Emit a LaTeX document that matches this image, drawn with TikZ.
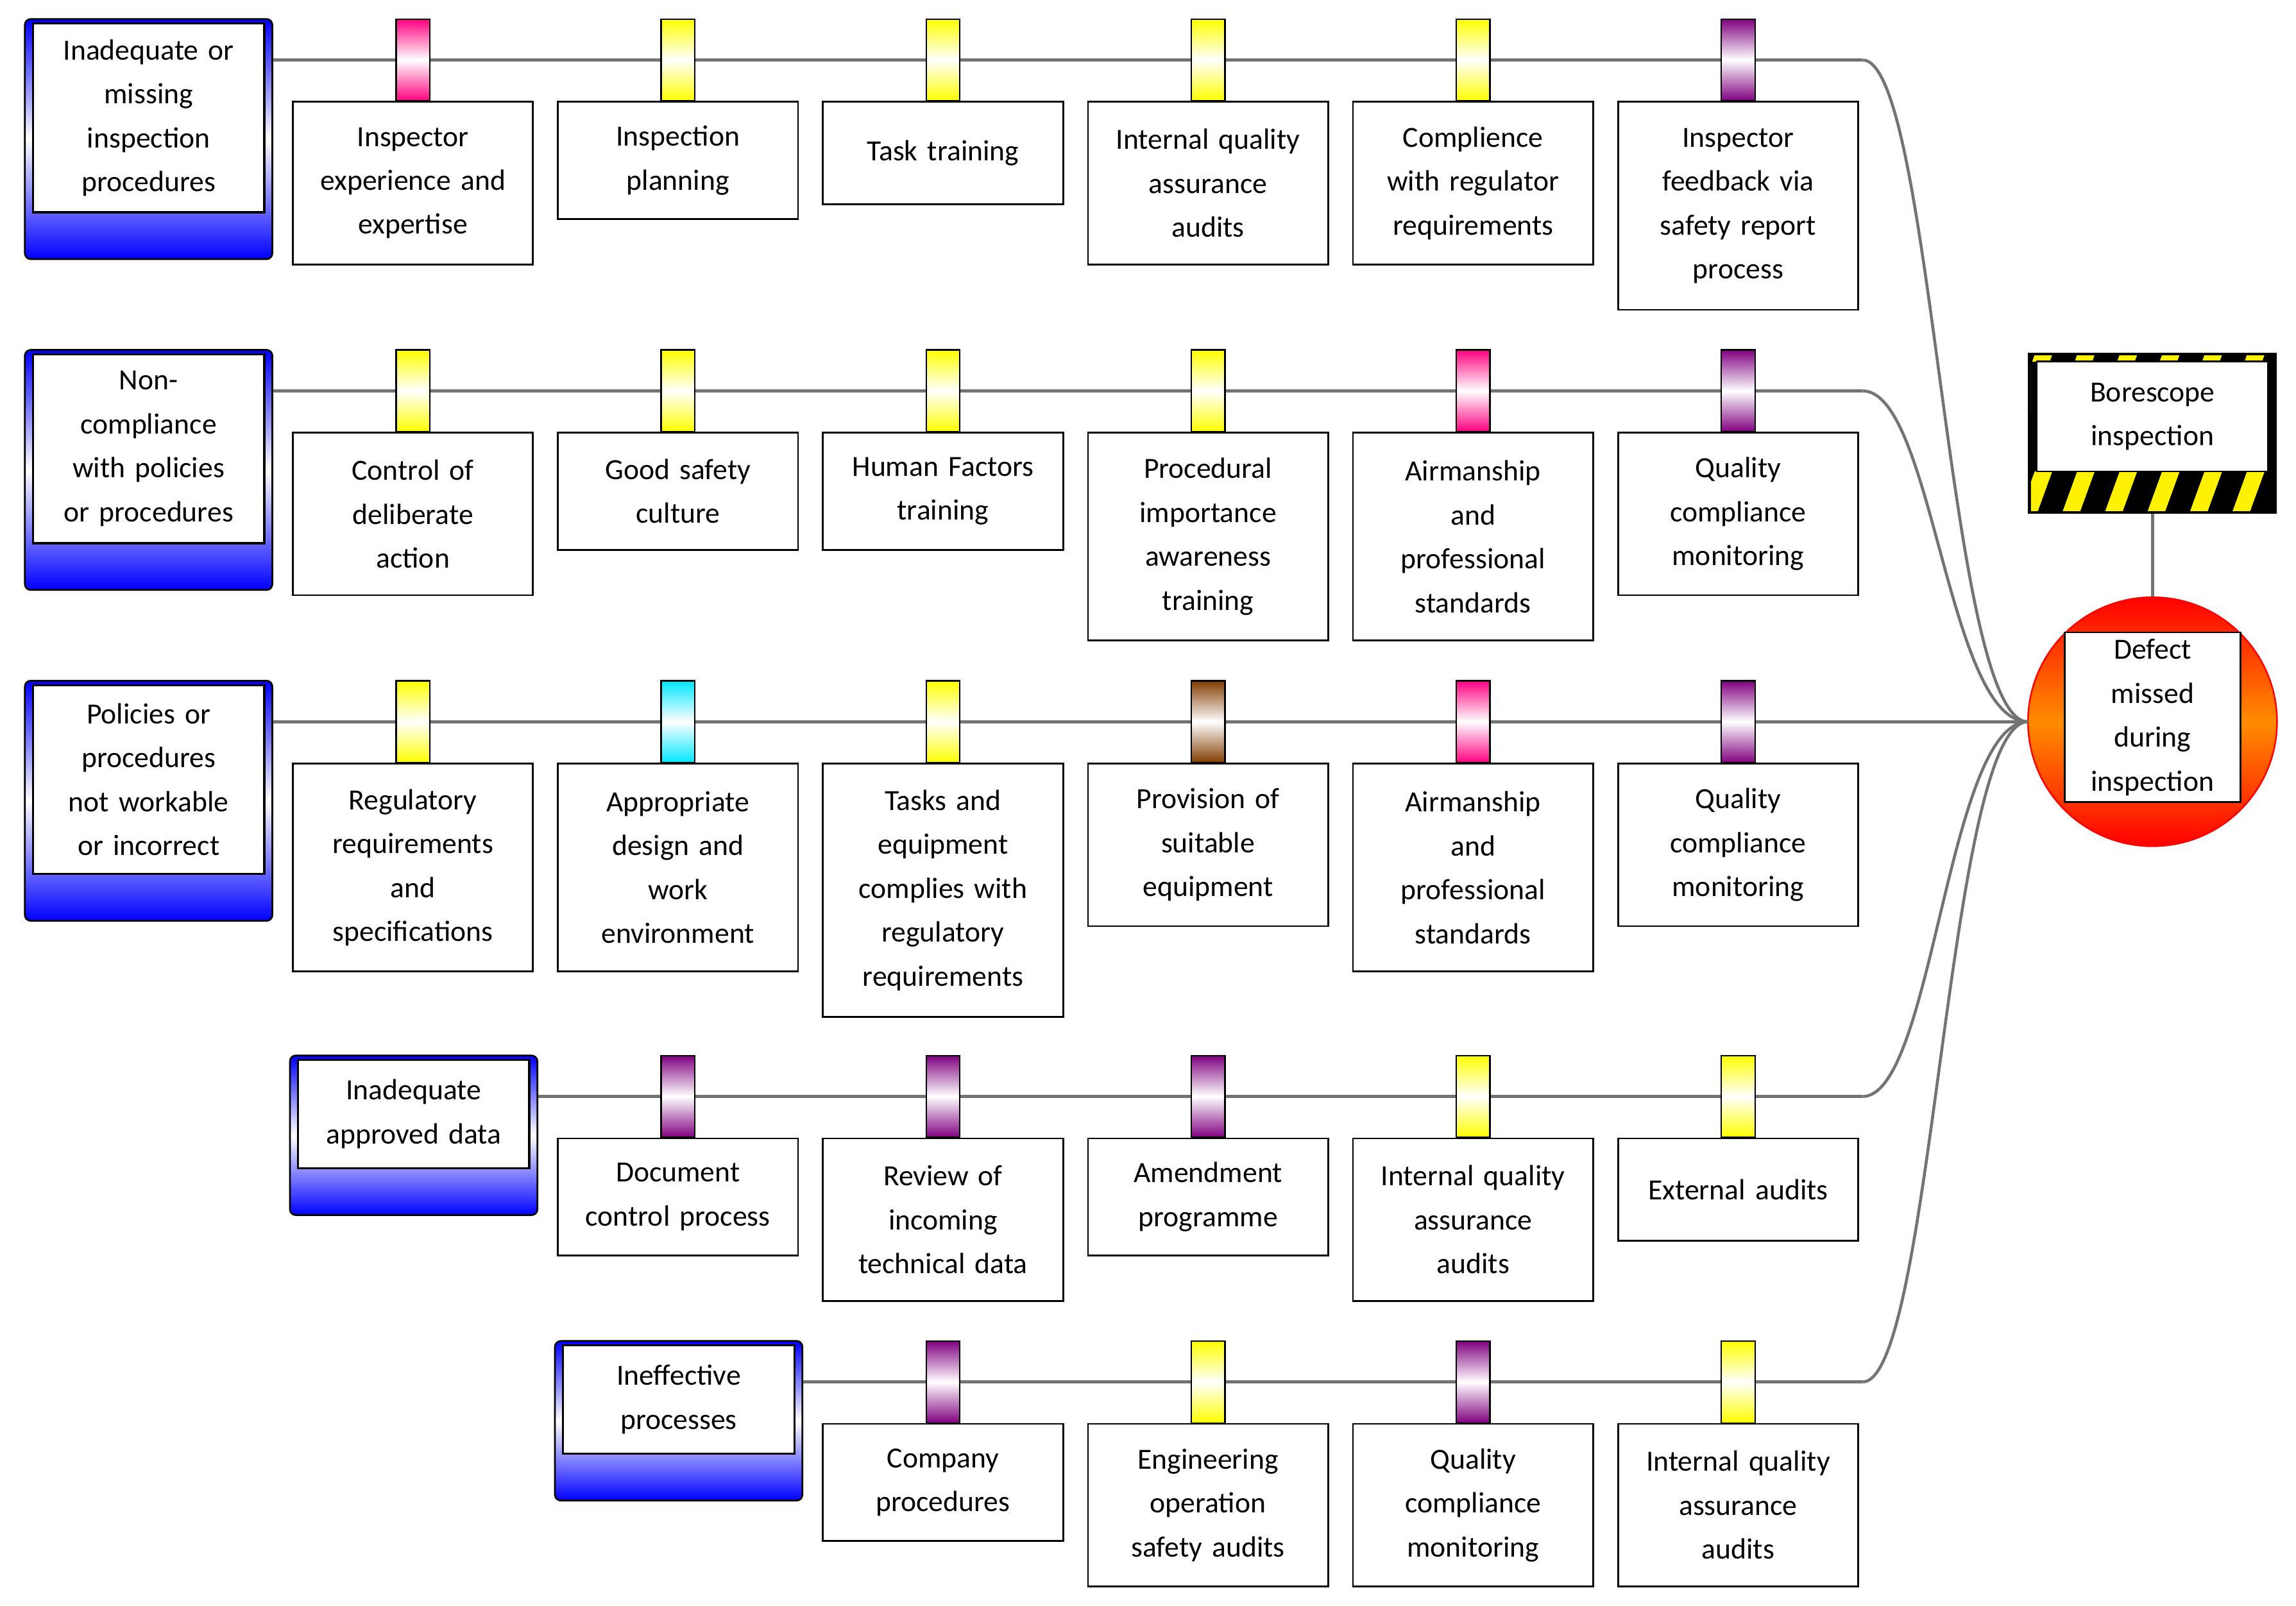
\documentclass[tikz,border=0pt]{standalone}
\usepackage{fontspec}
\setmainfont{Carlito}
\begin{document}
\begin{tikzpicture}[x=1pt,y=-1pt,
  ln/.style={draw=black!55,line width=2pt},
  bbox/.style={draw=black,line width=1.2pt,fill=white,text width=160pt,align=center,inner sep=2pt,font=\fontsize{20}{30}\selectfont},
  marker/.style={draw=black,line width=1pt,minimum width=23pt,minimum height=56pt,inner sep=0pt,top color=#1,bottom color=#1,middle color=white},
  cause/.style={draw=black,line width=1.2pt,rounded corners=4pt,top color=blue,bottom color=blue,middle color=white,inner sep=0pt},
  inner/.style={draw=black,line width=1.5pt,fill=white,align=center,inner sep=0pt,font=\fontsize{20}{30}\selectfont}]
\definecolor{pk}{RGB}{255,0,128}
\definecolor{yl}{RGB}{255,255,0}
\definecolor{pu}{RGB}{128,0,128}
\definecolor{cy}{RGB}{0,230,255}
\definecolor{br}{RGB}{130,60,0}
\useasboundingbox (0,0) rectangle (1568,1097);
\newcommand{\causebox}[7]{% name, x1,y1,x2,y2, inner bottom, text
  \node[cause,minimum width=#4-#2,minimum height=#5-#3] (#1) at ({(#2+#4)/2},{(#3+#5)/2}) {};
  \node[inner,minimum width=#4-#2-11,minimum height=#6-#3-6,text width=#4-#2-14] (#1i) at ({(#2+#4)/2},{(#3+#6)/2}) {#7};}
\newcommand{\barr}[6]{% name,x,liney,color,height,text
  \node[marker=#4] (m#1) at (#2,#3) {};
  \node[bbox,minimum height=#5,anchor=north] (b#1) at (#2,#3+28) {#6};}
% hub & right side
\coordinate (hub) at (1385,493);
\node[draw=red,line width=1pt,circle,minimum size=170pt,inner sep=0pt] (circ) at (1470,493) {};
\shade[top color=red,bottom color=red,middle color=orange!90!yellow] (1470,493) circle (85);
\draw[red,line width=1pt] (1470,493) circle (85);
\node[inner,line width=1.2pt,minimum width=120pt,minimum height=116pt,text width=116pt] (defect) at (1470,490) {Defect\\missed\\during\\inspection};
% hazard box
\fill[black] (1385,241) rectangle (1555,351);
\begin{scope}
\clip (1387,243) rectangle (1553,349);
\foreach \k in {0,...,8}{
  \fill[yellow] (1350+\k*29,351) -- (1362+\k*29,351) -- (1362+\k*29+40,241) -- (1350+\k*29+40,241) -- cycle;}
\end{scope}
\fill[black] (1387,247) rectangle (1553,258);
\fill[black] (1387,247) rectangle (1391,322);
\fill[black] (1549,247) rectangle (1553,322);
\node[inner,line width=1.2pt,minimum width=158pt,minimum height=75pt,text width=150pt] (bore) at (1470,284.5) {Borescope\\inspection};
\draw[ln] (1470,351) -- (circ.north);
% rows
\foreach \y/\xs in {41/186,267/186,493/186,749/367,944/548}{
  \draw[ln] (\xs,\y) -- (1272,\y);}
\draw[ln] (1272,41) .. controls (1320,41) and (1330,493) .. (hub);
\draw[ln] (1272,267) .. controls (1320,267) and (1330,493) .. (hub);
\draw[ln] (1272,493) -- (hub);
\draw[ln] (1272,749) .. controls (1320,749) and (1330,493) .. (hub);
\draw[ln] (1272,944) .. controls (1320,944) and (1330,493) .. (hub);
\causebox{c1}{17}{13}{186}{177}{148}{Inadequate or\\missing\\inspection\\procedures}
\causebox{c2}{17}{239}{186}{403}{374}{Non-\\compliance\\with policies\\or procedures}
\causebox{c3}{17}{465}{186}{629}{600}{Policies or\\procedures\\not workable\\or incorrect}
\causebox{c4}{198}{721}{367}{830}{801}{Inadequate\\approved data}
\causebox{c5}{379}{916}{548}{1025}{996}{Ineffective\\processes}
% row 1
\barr{11}{282}{41}{pk}{111}{Inspector\\experience and\\expertise}
\barr{12}{463}{41}{yl}{80}{Inspection\\planning}
\barr{13}{644}{41}{yl}{70}{Task training}
\barr{14}{825}{41}{yl}{111}{Internal quality\\assurance\\audits}
\barr{15}{1006}{41}{yl}{111}{Complience\\with regulator\\requirements}
\barr{16}{1187}{41}{pu}{142}{Inspector\\feedback via\\safety report\\process}
% row 2
\barr{21}{282}{267}{yl}{111}{Control of\\deliberate\\action}
\barr{22}{463}{267}{yl}{80}{Good safety\\culture}
\barr{23}{644}{267}{yl}{80}{Human Factors\\training}
\barr{24}{825}{267}{yl}{142}{Procedural\\importance\\awareness\\training}
\barr{25}{1006}{267}{pk}{142}{Airmanship\\and\\professional\\standards}
\barr{26}{1187}{267}{pu}{111}{Quality\\compliance\\monitoring}
% row 3
\barr{31}{282}{493}{yl}{142}{Regulatory\\requirements\\and\\specifications}
\barr{32}{463}{493}{cy}{142}{Appropriate\\design and\\work\\environment}
\barr{33}{644}{493}{yl}{173}{Tasks and\\equipment\\complies with\\regulatory\\requirements}
\barr{34}{825}{493}{br}{111}{Provision of\\suitable\\equipment}
\barr{35}{1006}{493}{pk}{142}{Airmanship\\and\\professional\\standards}
\barr{36}{1187}{493}{pu}{111}{Quality\\compliance\\monitoring}
% row 4
\barr{42}{463}{749}{pu}{80}{Document\\control process}
\barr{43}{644}{749}{pu}{111}{Review of\\incoming\\technical data}
\barr{44}{825}{749}{pu}{80}{Amendment\\programme}
\barr{45}{1006}{749}{yl}{111}{Internal quality\\assurance\\audits}
\barr{46}{1187}{749}{yl}{70}{External audits}
% row 5
\barr{53}{644}{944}{pu}{80}{Company\\procedures}
\barr{54}{825}{944}{yl}{111}{Engineering\\operation\\safety audits}
\barr{55}{1006}{944}{pu}{111}{Quality\\compliance\\monitoring}
\barr{56}{1187}{944}{yl}{111}{Internal quality\\assurance\\audits}
\end{tikzpicture}
\end{document}
